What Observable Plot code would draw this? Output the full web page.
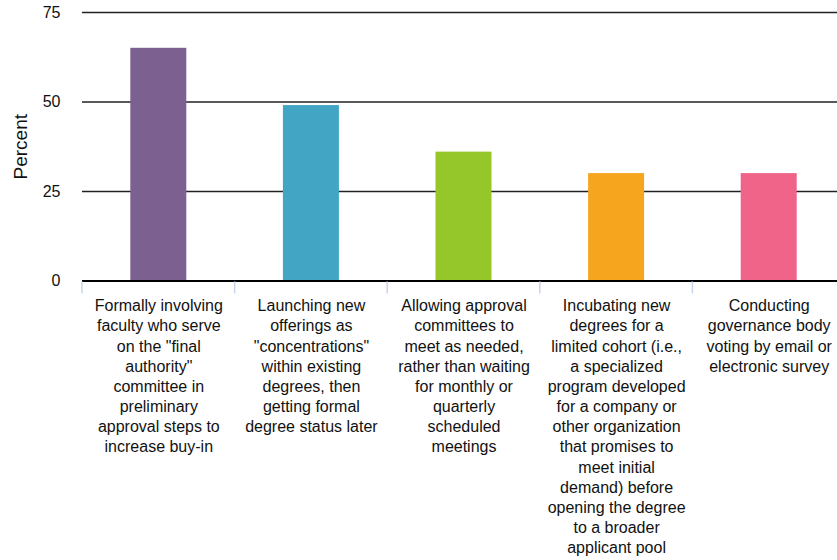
<!DOCTYPE html>
<html><head><meta charset="utf-8">
<script src="https://cdn.jsdelivr.net/npm/d3@7"></script>
<script src="https://cdn.jsdelivr.net/npm/@observablehq/plot@0.6"></script>
<style>
body{margin:0;background:#fff;overflow:hidden}
</style>
</head><body><div id="chart"></div>
<script>
const categories = [
  "Formally involving faculty who serve on the \"final authority\" committee in preliminary approval steps to increase buy-in",
  "Launching new offerings as \"concentrations\" within existing degrees, then getting formal degree status later",
  "Allowing approval committees to meet as needed, rather than waiting for monthly or quarterly scheduled meetings",
  "Incubating new degrees for a limited cohort (i.e., a specialized program developed for a company or other organization that promises to meet initial demand) before opening the degree to a broader applicant pool",
  "Conducting governance body voting by email or electronic survey"
];
const tickLabels = [
  "Formally involving\nfaculty who serve\non the \"final\nauthority\"\ncommittee in\npreliminary\napproval steps to\nincrease buy-in",
  "Launching new\nofferings as\n\"concentrations\"\nwithin existing\ndegrees, then\ngetting formal\ndegree status later",
  "Allowing approval\ncommittees to\nmeet as needed,\nrather than waiting\nfor monthly or\nquarterly\nscheduled\nmeetings",
  "Incubating new\ndegrees for a\nlimited cohort (i.e.,\na specialized\nprogram developed\nfor a company or\nother organization\nthat promises to\nmeet initial\ndemand) before\nopening the degree\nto a broader\napplicant pool",
  "Conducting\ngovernance body\nvoting by email or\nelectronic survey"
];
const values = [65, 49, 36, 30, 30];
const colors = ["#7C6190", "#41A5C3", "#96C72A", "#F5A51E", "#EF6488"];
const yTicks = [0, 25, 50, 75];
const yLabel = "Percent";

const data = categories.map((c, i) => ({category: c, label: tickLabels[i], value: values[i], color: colors[i]}));

function separators(index, scales) {
  const x = scales.x;
  const bw = x.bandwidth ? x.bandwidth() : scales.scales.x.bandwidth;
  const step = x.step ? x.step() : scales.scales.x.step;
  const y0 = scales.y(0);
  const bounds = categories.map(c => x(c) + bw / 2 - step / 2);
  bounds.push(x(categories[categories.length - 1]) + bw / 2 + step / 2);
  const g = d3.create("svg:g");
  g.selectAll("line").data(bounds).join("line")
    .attr("x1", d => d).attr("x2", d => d)
    .attr("y1", y0 + 1).attr("y2", y0 + 13)
    .attr("stroke", "#c8d4e8").attr("stroke-width", 1.5);
  return g.node();
}

const chart = Plot.plot({
  width: 837,
  height: 560,
  marginTop: 12,
  marginBottom: 279.5,
  marginLeft: 82,
  marginRight: -8,
  style: {fontFamily: "'Liberation Sans', Arial, sans-serif", fontSize: "16px", color: "#111", background: "#fff"},
  x: {domain: categories, range: [82, 845], paddingInner: 0.633, paddingOuter: 0.3165, round: false, axis: null},
  y: {domain: [0, 75], ticks: yTicks, tickSize: 0, tickPadding: 22, label: null},
  color: {type: "identity"},
  marks: [
    Plot.ruleY(yTicks.filter(t => t > 0), {stroke: "#222", strokeWidth: 1.5}),
    Plot.barY(data, {x: "category", y: "value", fill: d => d.color}),
    Plot.ruleY([0], {stroke: "#000", strokeWidth: 2}),
    Plot.text(data, {x: "category", y: 0, text: "label", lineAnchor: "top", dy: 16, fontSize: 16, lineHeight: 1.26, fill: "#111"}),
    Plot.text([yLabel], {frameAnchor: "left", rotate: -90, dx: -62, fontSize: 19, fill: "#111", textAnchor: "middle"}),
    separators
  ]
});
document.getElementById("chart").appendChild(chart);
</script>
</body></html>
